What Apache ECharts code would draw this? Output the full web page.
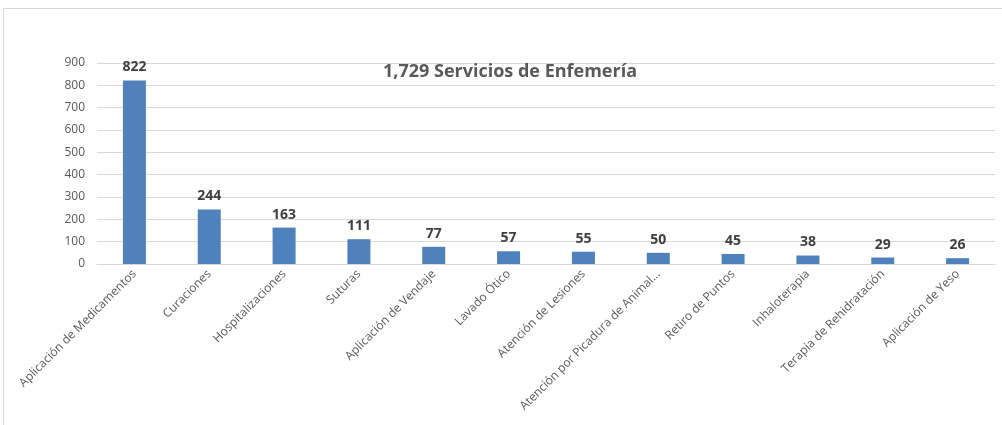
<!DOCTYPE html>
<html>
<head>
<meta charset="utf-8">
<script src="https://cdn.jsdelivr.net/npm/echarts@6/dist/echarts.min.js"></script>
<style>
  html, body { margin: 0; padding: 0; background: #fff; }
  #frame { position: absolute; left: 3px; top: 8px; width: 1010px; height: 430px; border: 1px solid #d9d9d9; box-sizing: border-box; }
  #chart { position: absolute; left: 0; top: 0; width: 1002px; height: 425px; }
</style>
</head>
<body>
<div id="frame"></div>
<div id="chart"></div>
<script>
// servicios de enfermería
const categories = [
  'Aplicación de Medicamentos', 'Curaciones', 'Hospitalizaciones', 'Suturas',
  'Aplicación de Vendaje', 'Lavado Ótico', 'Atención de Lesiones',
  'Atención por Picadura de Animal...', 'Retiro de Puntos', 'Inhaloterapia',
  'Terapia de Rehidratación', 'Aplicación de Yeso'
]
const values = [822, 244, 163, 111, 77, 57, 55, 50, 45, 38, 29, 26]
const yTicks = [0, 100, 200, 300, 400, 500, 600, 700, 800, 900]
const titleText = '1,729 Servicios de Enfemería'

const myChart = echarts.init(document.getElementById('chart'))

const option = {
  animation: false,
  textStyle: { fontFamily: 'Open Sans' },
  title: {
    text: titleText,
    left: 505,
    top: 58,
    textAlign: 'center',
    textStyle: { fontSize: 18, fontWeight: 'bold', color: '#595959', fontFamily: 'Open Sans' }
  },
  grid: { left: 97, right: 7, top: 63, bottom: 161, containLabel: false },
  xAxis: {
    type: 'category',
    data: categories,
    axisLine: { lineStyle: { color: '#d9d9d9' } },
    axisTick: { show: false },
    axisLabel: {
      interval: 0,
      rotate: 45,
      margin: 8,
      fontSize: 12,
      color: '#595959'
    }
  },
  yAxis: {
    type: 'value',
    min: yTicks[0],
    max: yTicks[yTicks.length - 1],
    interval: 100,
    axisLine: { show: false },
    axisTick: { show: false },
    axisLabel: { fontSize: 12, color: '#595959', margin: 12 },
    splitLine: { lineStyle: { color: '#d9d9d9' } }
  },
  series: [
    {
      type: 'bar',
      data: values,
      barWidth: 23,
      itemStyle: { color: '#4f81bd' },
      label: {
        show: true,
        position: 'top',
        distance: 6,
        fontSize: 14,
        fontWeight: 'bold',
        color: '#404040'
      }
    }
  ]
}

myChart.setOption(option)
</script>
</body>
</html>
